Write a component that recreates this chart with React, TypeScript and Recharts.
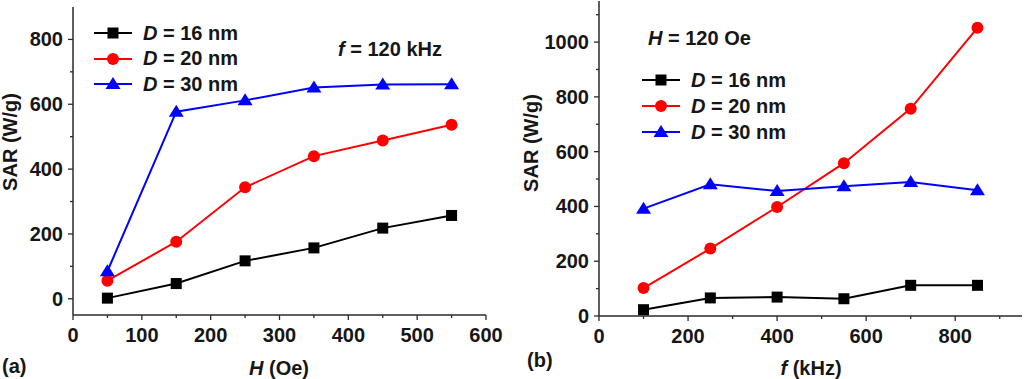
import React from "react";
import { LineChart, Line, XAxis, YAxis } from "recharts";

// panel (a): SAR vs H at f = 120 kHz
const fieldH = [50, 150, 250, 350, 450, 550];
const sarA16 = [2, 47, 117, 157, 218, 257];
const sarA20 = [56, 176, 344, 440, 488, 537];
const sarA30 = [85, 577, 612, 652, 661, 662];

// panel (b): SAR vs f at H = 120 Oe
const freqF = [100, 250, 400, 550, 700, 850];
const sarB16 = [23, 66, 69, 63, 112, 112];
const sarB20 = [102, 246, 398, 558, 757, 1052];
const sarB30 = [392, 481, 456, 474, 489, 459];

const ticksAX = [0, 50, 100, 150, 200, 250, 300, 350, 400, 450, 500, 550, 600];
const labelsAX = [0, 100, 200, 300, 400, 500, 600];
const ticksAY = [0, 100, 200, 300, 400, 500, 600, 700, 800];
const labelsAY = [0, 200, 400, 600, 800];
const ticksBX = [0, 100, 200, 300, 400, 500, 600, 700, 800, 900];
const labelsBX = [0, 200, 400, 600, 800];
const ticksBY = [0, 100, 200, 300, 400, 500, 600, 700, 800, 900, 1000, 1100];
const labelsBY = [0, 200, 400, 600, 800, 1000];

const dataA = fieldH.map((x, i) => ({ x, d16: sarA16[i], d20: sarA20[i], d30: sarA30[i] }));
const dataB = freqF.map((x, i) => ({ x, d16: sarB16[i], d20: sarB20[i], d30: sarB30[i] }));

const FONT = '"Liberation Sans", Arial, sans-serif';
const FS = 20;
const INK = "#161616";
const AXIS = "#2a2a2a";

const series = [
  { key: "d16", color: "#000000", shape: "square", label: "16" },
  { key: "d20", color: "#ff0000", shape: "circle", label: "20" },
  { key: "d30", color: "#0000ff", shape: "triangle", label: "30" },
];

function Marker({ cx, cy, shape, color }: any) {
  if (cx == null || cy == null) return null;
  if (shape === "square") return <rect x={cx - 5.5} y={cy - 5.5} width={11} height={11} fill={color} />;
  if (shape === "circle") return <circle cx={cx} cy={cy} r={6} fill={color} />;
  return <polygon points={`${cx},${cy - 7} ${cx - 7.5},${cy + 5} ${cx + 7.5},${cy + 5}`} fill={color} />;
}

const makeXTick = (labels: number[]) => (props: any) => {
  const { x, y, payload } = props;
  const major = labels.includes(payload.value);
  return (
    <g>
      <line x1={x} x2={x} y1={y} y2={y + (major ? 5 : 3)} stroke={AXIS} strokeWidth={1.3} />
      {major && (
        <text x={x} y={y + 27} textAnchor="middle" fontFamily={FONT} fontWeight="bold" fontSize={FS} fill={INK}>
          {payload.value}
        </text>
      )}
    </g>
  );
};

const makeYTick = (labels: number[]) => (props: any) => {
  const { x, y, payload } = props;
  const major = labels.includes(payload.value);
  return (
    <g>
      <line x1={x} x2={x - (major ? 5 : 3)} y1={y} y2={y} stroke={AXIS} strokeWidth={1.3} />
      {major && (
        <text x={x - 10} y={y + 7} textAnchor="end" fontFamily={FONT} fontWeight="bold" fontSize={FS} fill={INK}>
          {payload.value}
        </text>
      )}
    </g>
  );
};

function Txt({ x, y, children, rotate, anchor = "left" }: any) {
  const tx = anchor === "center" ? "-50%" : "0";
  return (
    <div
      style={{
        position: "absolute",
        left: x,
        top: y,
        transform: `translate(${tx}, -50%)${rotate ? ` rotate(${rotate}deg)` : ""}`,
        transformOrigin: "center",
        fontFamily: FONT,
        fontWeight: "bold",
        fontSize: FS,
        color: INK,
        whiteSpace: "nowrap",
        lineHeight: 1,
      }}
    >
      {children}
    </div>
  );
}

function LegendBox({ x, y, gap }: { x: number; y: number; gap: number }) {
  return (
    <>
      {series.map((s, i) => (
        <div key={s.key} style={{ position: "absolute", left: x, top: y + i * gap - 10, height: 20, display: "flex", alignItems: "center" }}>
          <svg width={40} height={20} style={{ display: "block" }}>
            <line x1={1} x2={39} y1={10} y2={10} stroke={s.color} strokeWidth={2} />
            <Marker cx={20} cy={10} shape={s.shape} color={s.color} />
          </svg>
          <span style={{ marginLeft: 10, fontFamily: FONT, fontWeight: "bold", fontSize: FS, color: INK, whiteSpace: "nowrap" }}>
            <i>D</i> = {s.label} nm
          </span>
        </div>
      ))}
    </>
  );
}

function Panel({ data, xDomain, yDomain, xTicks, xLabels, yTicks, yLabels, margin, yWidth, xHeight }: any) {
  return (
    <LineChart width={512} height={379} data={data} margin={margin}>
      <XAxis
        type="number"
        dataKey="x"
        domain={xDomain}
        ticks={xTicks}
        interval={0}
        allowDataOverflow
        height={xHeight}
        tickSize={0}
        tickMargin={0}
        tickLine={false}
        axisLine={{ stroke: AXIS, strokeWidth: 1.5 }}
        tick={makeXTick(xLabels)}
      />
      <XAxis xAxisId="top" orientation="top" type="number" dataKey="x" domain={xDomain} height={0} tick={false} tickLine={false} axisLine={{ stroke: AXIS, strokeWidth: 1.5 }} />
      <YAxis
        type="number"
        domain={yDomain}
        ticks={yTicks}
        interval={0}
        allowDataOverflow
        width={yWidth}
        tickSize={0}
        tickMargin={0}
        tickLine={false}
        axisLine={{ stroke: AXIS, strokeWidth: 1.5 }}
        tick={makeYTick(yLabels)}
      />
      <YAxis yAxisId="right" orientation="right" type="number" domain={yDomain} width={0} tick={false} tickLine={false} axisLine={{ stroke: AXIS, strokeWidth: 1.5 }} />
      {series.map((s) => (
        <Line
          key={s.key}
          type="linear"
          dataKey={s.key}
          stroke={s.color}
          strokeWidth={2}
          isAnimationActive={false}
          dot={(p: any) => <Marker key={`${s.key}-${p.index}`} cx={p.cx} cy={p.cy} shape={s.shape} color={s.color} />}
          activeDot={false}
        />
      ))}
    </LineChart>
  );
}

export default function App() {
  return (
    <div style={{ position: "absolute", left: 0, top: 0, width: 1024, height: 379, background: "#fff", overflow: "hidden" }}>
      <div style={{ position: "absolute", left: 0, top: 0 }}>
        <Panel
          data={dataA}
          xDomain={[0, 600]}
          yDomain={[-50, 900]}
          xTicks={ticksAX}
          xLabels={labelsAX}
          yTicks={ticksAY}
          yLabels={labelsAY}
          margin={{ top: 7, right: 26, left: 0, bottom: 0 }}
          yWidth={73}
          xHeight={64}
        />
      </div>
      <div style={{ position: "absolute", left: 512, top: 0 }}>
        <Panel
          data={dataB}
          xDomain={[0, 950]}
          yDomain={[0, 1150]}
          xTicks={ticksBX}
          xLabels={labelsBX}
          yTicks={ticksBY}
          yLabels={labelsBY}
          margin={{ top: 1, right: 2, left: 0, bottom: 0 }}
          yWidth={87}
          xHeight={63}
        />
      </div>

      {/* panel (a) texts */}
      <Txt x={10} y={142} rotate={-90} anchor="center">SAR (W/g)</Txt>
      <Txt x={279} y={368} anchor="center"><i>H</i> (Oe)</Txt>
      <Txt x={2} y={366}>(a)</Txt>
      <Txt x={338} y={49}><i>f</i> = 120 kHz</Txt>
      <LegendBox x={93} y={33} gap={25.5} />

      {/* panel (b) texts */}
      <Txt x={531} y={143} rotate={-90} anchor="center">SAR (W/g)</Txt>
      <Txt x={811} y={368} anchor="center"><i>f</i> (kHz)</Txt>
      <Txt x={527} y={360}>(b)</Txt>
      <Txt x={648} y={38}><i>H</i> = 120 Oe</Txt>
      <LegendBox x={641} y={80} gap={26} />
    </div>
  );
}
